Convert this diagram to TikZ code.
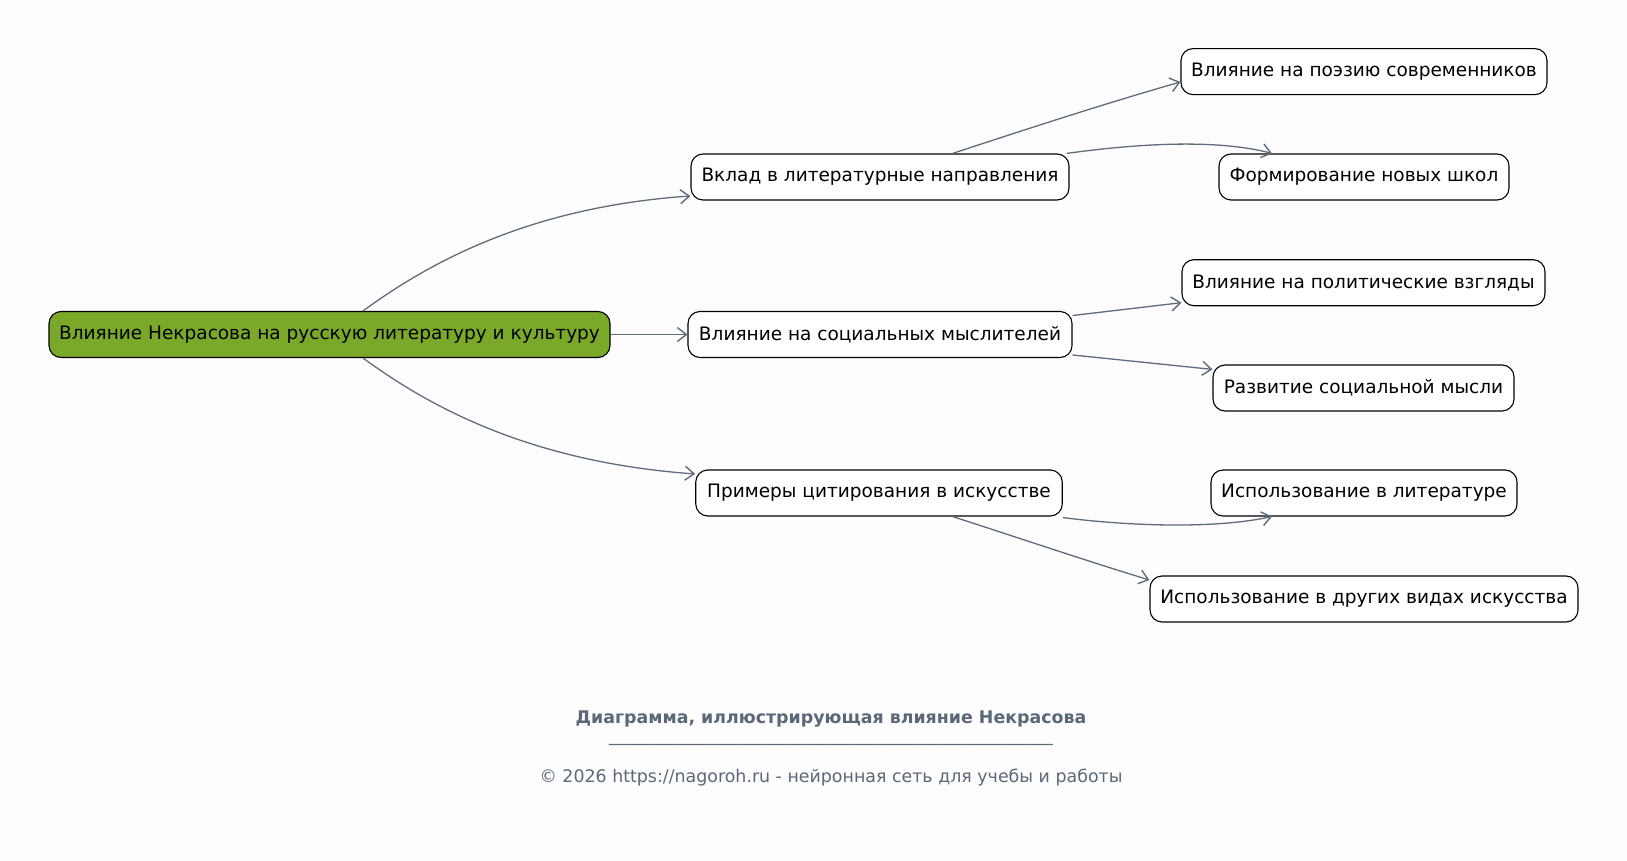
\documentclass[tikz,border=0pt]{standalone}
\usepackage{fontspec}
\setmainfont{DejaVu Sans}
\usetikzlibrary{arrows.meta,calc}
\definecolor{bgc}{RGB}{253,253,253}
\definecolor{edgec}{RGB}{94,108,124}
\definecolor{rootc}{RGB}{122,168,41}
\definecolor{footc}{RGB}{90,104,120}
\begin{document}
\begin{tikzpicture}[x=1pt,y=-1pt,
  box/.style={draw=black,line width=1.1pt,rounded corners=12pt,fill=white,
    minimum height=46pt,inner xsep=2pt,inner ysep=0pt,font=\fontsize{18.5}{22}\selectfont},
  conn/.style={draw=edgec,line width=1.3pt,-{Straight Barb[length=9pt,width=14pt,line width=1.4pt]}},
  foot/.style={text=footc,font=\fontsize{17.4}{20}\selectfont}]
\fill[bgc] (0,0) rectangle (1627,861);
\useasboundingbox (0,0) rectangle (1627,861);
\node[box,fill=rootc,minimum width=561pt] (root) at (329.5,334.5) {Влияние Некрасова на русскую литературу и культуру};
\node[box,minimum width=378pt] (vklad) at (880,177) {Вклад в литературные направления};
\node[box,minimum width=384pt] (social) at (880,334.5) {Влияние на социальных мыслителей};
\node[box,minimum width=366.5pt] (primer) at (879,493) {Примеры цитирования в искусстве};
\node[box,minimum width=366pt] (poez) at (1364,71.6) {Влияние на поэзию современников};
\node[box,minimum width=290pt] (form) at (1364,177) {Формирование новых школ};
\node[box,minimum width=363pt] (polit) at (1363.5,282.7) {Влияние на политические взгляды};
\node[box,minimum width=301pt] (razv) at (1363.5,388) {Развитие социальной мысли};
\node[box,minimum width=306pt] (lit) at (1364,493) {Использование в литературе};
\node[box,minimum width=428pt] (drug) at (1364,599) {Использование в других видах искусства};

\draw[conn] ($(root.north)+(33.5,0)$) .. controls (430,262) and (530,207) .. ($(vklad.west)+(0,19)$);
\draw[conn] ($(root.south)+(33.5,0)$) .. controls (430,407) and (530,462) .. ($(primer.west)+(0,-19)$);
\draw[conn] (root.east) -- (social.west);
\draw[conn] ($(vklad.north)+(72.5,0)$) .. controls (1030,128) and (1110,102) .. ($(poez.west)+(0,10.4)$);
\draw[conn] ($(vklad.north east)+(-3,0)$) .. controls (1120,146) and (1210,137) .. ($(form.north)+(-92,0)$);
\draw[conn] ($(social.east)+(0,-19)$) -- ($(polit.west)+(0,20)$);
\draw[conn] ($(social.east)+(0,20.5)$) -- ($(razv.west)+(0,-18.6)$);
\draw[conn] ($(primer.south east)+(0,1)$) .. controls (1120,525) and (1210,530) .. ($(lit.south)+(-92,0)$);
\draw[conn] ($(primer.south)+(73.5,0)$) .. controls (1010,535) and (1090,562) .. ($(drug.west)+(0,-19)$);

\node[foot,font=\fontsize{17.4}{20}\selectfont\bfseries] (title) at (831,719) {Диаграмма, иллюстрирующая влияние Некрасова};
\node[foot] (rule) at (831,744) {\_\_\_\_\_\_\_\_\_\_\_\_\_\_\_\_\_\_\_\_\_\_\_\_\_\_\_\_\_\_\_\_\_\_\_\_\_\_\_\_\_\_\_\_\_\_\_\_\_\_\_};
\node[foot] (copy) at (831,778) {© 2026 https://nagoroh.ru - нейронная сеть для учебы и работы};
\end{tikzpicture}
\end{document}
